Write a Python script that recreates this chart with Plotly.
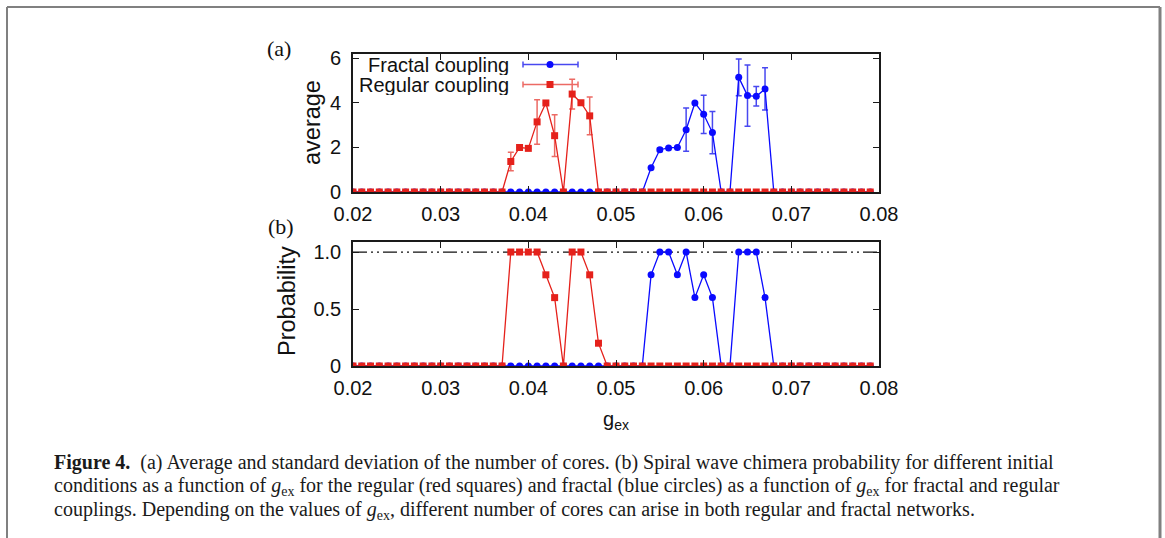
import plotly.graph_objects as go

# ---------------- data ----------------
g_ex = [0.020, 0.021, 0.022, 0.023, 0.024, 0.025, 0.026, 0.027, 0.028, 0.029,
        0.030, 0.031, 0.032, 0.033, 0.034, 0.035, 0.036, 0.037, 0.038, 0.039,
        0.040, 0.041, 0.042, 0.043, 0.044, 0.045, 0.046, 0.047, 0.048, 0.049,
        0.050, 0.051, 0.052, 0.053, 0.054, 0.055, 0.056, 0.057, 0.058, 0.059,
        0.060, 0.061, 0.062, 0.063, 0.064, 0.065, 0.066, 0.067, 0.068, 0.069,
        0.070, 0.071, 0.072, 0.073, 0.074, 0.075, 0.076, 0.077, 0.078, 0.079]

fractal_avg = [0, 0, 0, 0, 0, 0, 0, 0, 0, 0,
               0, 0, 0, 0, 0, 0, 0, 0, 0, 0,
               0, 0, 0, 0, 0, 0, 0, 0, 0, 0,
               0, 0, 0, 0, 1.09, 1.90, 1.98, 2.00, 2.80, 4.00,
               3.49, 2.67, 0, 0, 5.15, 4.33, 4.30, 4.63, 0, 0,
               0, 0, 0, 0, 0, 0, 0, 0, 0, 0]
fractal_std = [0, 0, 0, 0, 0, 0, 0, 0, 0, 0,
               0, 0, 0, 0, 0, 0, 0, 0, 0, 0,
               0, 0, 0, 0, 0, 0, 0, 0, 0, 0,
               0, 0, 0, 0, 0, 0.08, 0, 0, 0.97, 0,
               0.86, 0.95, 0, 0, 0.83, 1.38, 0.44, 0.95, 0, 0,
               0, 0, 0, 0, 0, 0, 0, 0, 0, 0]
regular_avg = [0, 0, 0, 0, 0, 0, 0, 0, 0, 0,
               0, 0, 0, 0, 0, 0, 0, 0, 1.37, 2.00,
               1.96, 3.15, 4.00, 2.53, 0, 4.40, 4.01, 3.42, 0, 0,
               0, 0, 0, 0, 0, 0, 0, 0, 0, 0,
               0, 0, 0, 0, 0, 0, 0, 0, 0, 0,
               0, 0, 0, 0, 0, 0, 0, 0, 0, 0]
regular_std = [0, 0, 0, 0, 0, 0, 0, 0, 0, 0,
               0, 0, 0, 0, 0, 0, 0, 0, 0.42, 0,
               0, 1.00, 0, 0.94, 0, 0.67, 0, 0.85, 0, 0,
               0, 0, 0, 0, 0, 0, 0, 0, 0, 0,
               0, 0, 0, 0, 0, 0, 0, 0, 0, 0,
               0, 0, 0, 0, 0, 0, 0, 0, 0, 0]
fractal_prob = [0, 0, 0, 0, 0, 0, 0, 0, 0, 0,
                0, 0, 0, 0, 0, 0, 0, 0, 0, 0,
                0, 0, 0, 0, 0, 0, 0, 0, 0, 0,
                0, 0, 0, 0, 0.8, 1.0, 1.0, 0.8, 1.0, 0.6,
                0.8, 0.6, 0, 0, 1.0, 1.0, 1.0, 0.6, 0, 0,
                0, 0, 0, 0, 0, 0, 0, 0, 0, 0]
regular_prob = [0, 0, 0, 0, 0, 0, 0, 0, 0, 0,
                0, 0, 0, 0, 0, 0, 0, 0, 1.0, 1.0,
                1.0, 1.0, 0.8, 0.6, 0, 1.0, 1.0, 0.8, 0.2, 0,
                0, 0, 0, 0, 0, 0, 0, 0, 0, 0,
                0, 0, 0, 0, 0, 0, 0, 0, 0, 0,
                0, 0, 0, 0, 0, 0, 0, 0, 0, 0]

series_names = ["Fractal coupling", "Regular coupling"]
x_ticks = [0.02, 0.03, 0.04, 0.05, 0.06, 0.07, 0.08]
x_tick_text = ["0.02", "0.03", "0.04", "0.05", "0.06", "0.07", "0.08"]
ya_ticks = [0, 2, 4, 6]
yb_ticks = [0, 0.5, 1.0]
yb_tick_text = ["0", "0.5", "1.0"]
caption_lines = [
    "<b>Figure 4.</b>  (a) Average and standard deviation of the number of cores. (b) Spiral wave chimera probability for different initial",
    "conditions as a function of <i>g</i><sub>ex</sub> for the regular (red squares) and fractal (blue circles) as a function of <i>g</i><sub>ex</sub> for fractal and regular",
    "couplings. Depending on the values of <i>g</i><sub>ex</sub>, different number of cores can arise in both regular and fractal networks.",
]

# ---------------- style ----------------
W, H = 1165, 538
L, R, T, B = 353, 879, 54, 366
BLUE, BLUE_ERR = "#0a0aff", "#4848f0"
RED, RED_ERR = "#e5211b", "#ec6a64"
SANS = "Liberation Sans, Arial, sans-serif"
SERIF = "Liberation Serif, Times New Roman, serif"
AXC = "#1a1a1a"
SQ, CI = 7, 7


def px(xp):
    return (xp - L) / (R - L)


def py(yp):
    return (B - yp) / (B - T)


fig = go.Figure()

# panel (a)
fig.add_trace(go.Scatter(x=g_ex, y=fractal_avg, mode="lines+markers", name=series_names[0],
                         line=dict(color=BLUE, width=1.3),
                         marker=dict(color=BLUE, size=CI, symbol="circle"),
                         error_y=dict(type="data", array=fractal_std, color=BLUE_ERR, thickness=1.5, width=3),
                         xaxis="x", yaxis="y", showlegend=False))
fig.add_trace(go.Scatter(x=g_ex, y=regular_avg, mode="lines+markers", name=series_names[1],
                         line=dict(color=RED, width=1.3),
                         marker=dict(color=RED, size=SQ, symbol="square"),
                         error_y=dict(type="data", array=regular_std, color=RED_ERR, thickness=1.5, width=3),
                         xaxis="x", yaxis="y", showlegend=False))
# panel (b)
fig.add_trace(go.Scatter(x=g_ex, y=fractal_prob, mode="lines+markers", name=series_names[0],
                         line=dict(color=BLUE, width=1.3),
                         marker=dict(color=BLUE, size=CI, symbol="circle"),
                         xaxis="x2", yaxis="y2", showlegend=False))
fig.add_trace(go.Scatter(x=g_ex, y=regular_prob, mode="lines+markers", name=series_names[1],
                         line=dict(color=RED, width=1.3),
                         marker=dict(color=RED, size=SQ, symbol="square"),
                         xaxis="x2", yaxis="y2", showlegend=False))

axis_common = dict(showline=True, linecolor=AXC, linewidth=1.6, mirror="ticks",
                   ticks="inside", ticklen=6, tickwidth=1.2, tickcolor=AXC,
                   showgrid=False, zeroline=False,
                   tickfont=dict(family=SANS, size=20, color="#111"))

ya_bottom = py(192)
yb_top = py(242)

fig.update_layout(
    width=W, height=H,
    margin=dict(l=L, r=W - R, t=T, b=H - B, pad=0),
    paper_bgcolor="white", plot_bgcolor="white",
    xaxis=dict(domain=[0, 1], anchor="y", range=[0.02, 0.08], tickvals=x_ticks,
               ticktext=x_tick_text, ticklabelstandoff=3, **axis_common),
    yaxis=dict(domain=[ya_bottom, 1], anchor="x", range=[0, 6.2], tickvals=ya_ticks,
               ticklabelstandoff=6, **axis_common),
    xaxis2=dict(domain=[0, 1], anchor="y2", range=[0.02, 0.08], tickvals=x_ticks,
                ticktext=x_tick_text, ticklabelstandoff=3, **axis_common),
    yaxis2=dict(domain=[0, yb_top], anchor="x2", range=[0, 1.088], tickvals=yb_ticks,
                ticktext=yb_tick_text, ticklabelstandoff=6, **axis_common),
    showlegend=False,
)

shapes = []
# dash-dot reference line at probability 1
shapes.append(dict(type="line", xref="x2 domain", yref="y2", x0=0, x1=1, y0=1, y1=1,
                   line=dict(color="#111", width=1.2, dash="14px,4px,2px,4px,2px,4px"), layer="below"))

# figure frame
GREY = "#808080"
shapes.append(dict(type="line", xref="paper", yref="paper", x0=px(7), x1=px(1160), y0=py(7), y1=py(7),
                   line=dict(color=GREY, width=2)))
shapes.append(dict(type="line", xref="paper", yref="paper", x0=px(7), x1=px(7), y0=py(7), y1=py(540),
                   line=dict(color=GREY, width=2)))
shapes.append(dict(type="line", xref="paper", yref="paper", x0=px(1160), x1=px(1160), y0=py(7), y1=py(540),
                   line=dict(color=GREY, width=3)))

# manual legend (gnuplot style: text then sample)
annotations = []
leg_rows = [(64.5, BLUE, BLUE_ERR, "circle"), (84.5, RED, RED_ERR, "square")]
for name, (ly, col, ecol, sym) in zip(series_names, leg_rows):
    annotations.append(dict(x=px(511), y=py(ly), xref="paper", yref="paper", text=name,
                            showarrow=False, xanchor="right", yanchor="middle", height=20,
                            font=dict(family=SANS, size=20, color="#111")))
    shapes.append(dict(type="line", xref="paper", yref="paper", x0=px(523), x1=px(578),
                       y0=py(ly), y1=py(ly), line=dict(color=ecol, width=1.5)))
    for cx in (523, 578):
        shapes.append(dict(type="line", xref="paper", yref="paper", x0=px(cx), x1=px(cx),
                           y0=py(ly - 3), y1=py(ly + 3), line=dict(color=ecol, width=1.5)))
    if sym == "circle":
        shapes.append(dict(type="circle", xref="paper", yref="paper", x0=px(546.5), x1=px(553.5),
                           y0=py(ly + 3.5), y1=py(ly - 3.5), fillcolor=col, line=dict(color=col, width=0)))
    else:
        shapes.append(dict(type="rect", xref="paper", yref="paper", x0=px(546.5), x1=px(553.5),
                           y0=py(ly + 3.5), y1=py(ly - 3.5), fillcolor=col, line=dict(color=col, width=0)))

# panel labels
annotations.append(dict(x=px(279), y=py(48), xref="paper", yref="paper", text="(a)", showarrow=False,
                        xanchor="center", yanchor="middle", font=dict(family=SERIF, size=22, color="#111")))
annotations.append(dict(x=px(281), y=py(226), xref="paper", yref="paper", text="(b)", showarrow=False,
                        xanchor="center", yanchor="middle", font=dict(family=SERIF, size=22, color="#111")))
# axis titles
annotations.append(dict(x=px(312), y=py(123), xref="paper", yref="paper", text="average", showarrow=False,
                        textangle=-90, xanchor="center", yanchor="middle",
                        font=dict(family=SANS, size=23.5, color="#111")))
annotations.append(dict(x=px(287), y=py(301), xref="paper", yref="paper", text="Probability", showarrow=False,
                        textangle=-90, xanchor="center", yanchor="middle",
                        font=dict(family=SANS, size=23.5, color="#111")))
annotations.append(dict(x=px(616), y=py(420), xref="paper", yref="paper", text="g<sub>ex</sub>",
                        showarrow=False, xanchor="center", yanchor="middle",
                        font=dict(family=SANS, size=20, color="#111")))
# caption
for i, line in enumerate(caption_lines):
    annotations.append(dict(x=px(52), y=py(462 + 24 * i), xref="paper", yref="paper", text=line,
                            showarrow=False, xanchor="left", yanchor="middle", align="left",
                            font=dict(family=SERIF, size=20, color="#1a1a1a")))

fig.update_layout(shapes=shapes, annotations=annotations)
fig.write_html("out.html", config={"displayModeBar": False},
               post_script="document.body.style.margin='0';document.body.style.overflow='hidden';")
